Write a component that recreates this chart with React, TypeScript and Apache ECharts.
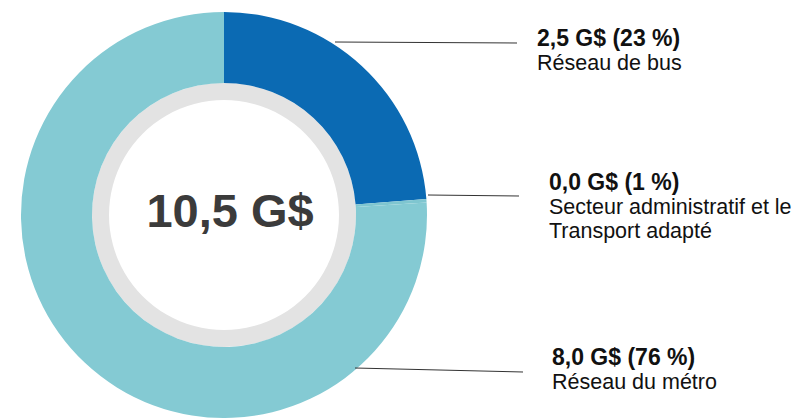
import React, { useEffect, useRef } from "react";
import * as echarts from "echarts";

const categories = ["Réseau de bus", "Secteur administratif et le\nTransport adapté", "Réseau du métro"];
const values = [2.5, 0.03, 8.0];
const amountLabels = ["2,5", "0,0", "8,0"];
const percentLabels = [23, 1, 76];
const colors = ["#0b6ab3", "#7fc6d0", "#84cad3"];
const totalLabel = "10,5 G$";

export default function App() {
  const ref = useRef<HTMLDivElement>(null);
  useEffect(() => {
    if (!ref.current) return;
    const chart = echarts.init(ref.current, null, { renderer: "svg" });
    const cx = 224, cy = 215;
    const labelPos = [
      { x: 537, y: 38, line: [[335, 42], [517, 43]] },
      { x: 549, y: 182, line: [[428, 195], [519, 196]] },
      { x: 552, y: 357, line: [[355, 368], [523, 372]] },
    ];
    const graphics: any[] = [
      {
        type: "ring",
        shape: { cx, cy, r: 132, r0: 115 },
        style: { fill: "#e3e3e3" },
        silent: true,
      },
      {
        type: "text",
        x: 230,
        y: 210,
        style: {
          text: totalLabel,
          fill: "#3b3b3b",
          font: "bold 47px 'Liberation Sans', Arial, sans-serif",
          align: "center",
          verticalAlign: "middle",
        },
      },
    ];
    categories.forEach((c, i) => {
      const p = labelPos[i];
      graphics.push({
        type: "line",
        shape: { x1: p.line[0][0], y1: p.line[0][1], x2: p.line[1][0], y2: p.line[1][1] },
        style: { stroke: "#333", lineWidth: 1 },
        z: 10,
      });
      graphics.push({
        type: "text",
        x: p.x,
        y: p.y,
        style: {
          text: `${amountLabels[i]} G$ (${percentLabels[i]} %)`,
          fill: "#111",
          font: "bold 23px 'Liberation Sans', Arial, sans-serif",
          align: "left",
          verticalAlign: "middle",
        },
      });
      graphics.push({
        type: "text",
        x: p.x,
        y: p.y + 12.5,
        style: {
          text: c,
          fill: "#111",
          font: "21.5px 'Liberation Sans', Arial, sans-serif",
          align: "left",
          verticalAlign: "top",
          lineHeight: 24,
        },
      });
    });
    chart.setOption({
      animation: false,
      backgroundColor: "#ffffff",
      series: [
        {
          type: "pie",
          center: [cx, cy],
          radius: [132, 203],
          startAngle: 90,
          clockwise: true,
          silent: true,
          label: { show: false },
          labelLine: { show: false },
          data: categories.map((c, i) => ({
            name: c,
            value: values[i],
            itemStyle: { color: colors[i] },
          })),
        },
      ],
      graphic: graphics,
    });
    return () => chart.dispose();
  }, []);
  return (
    <div
      ref={ref}
      style={{ position: "fixed", left: 0, top: 0, width: 801, height: 418 }}
    />
  );
}
